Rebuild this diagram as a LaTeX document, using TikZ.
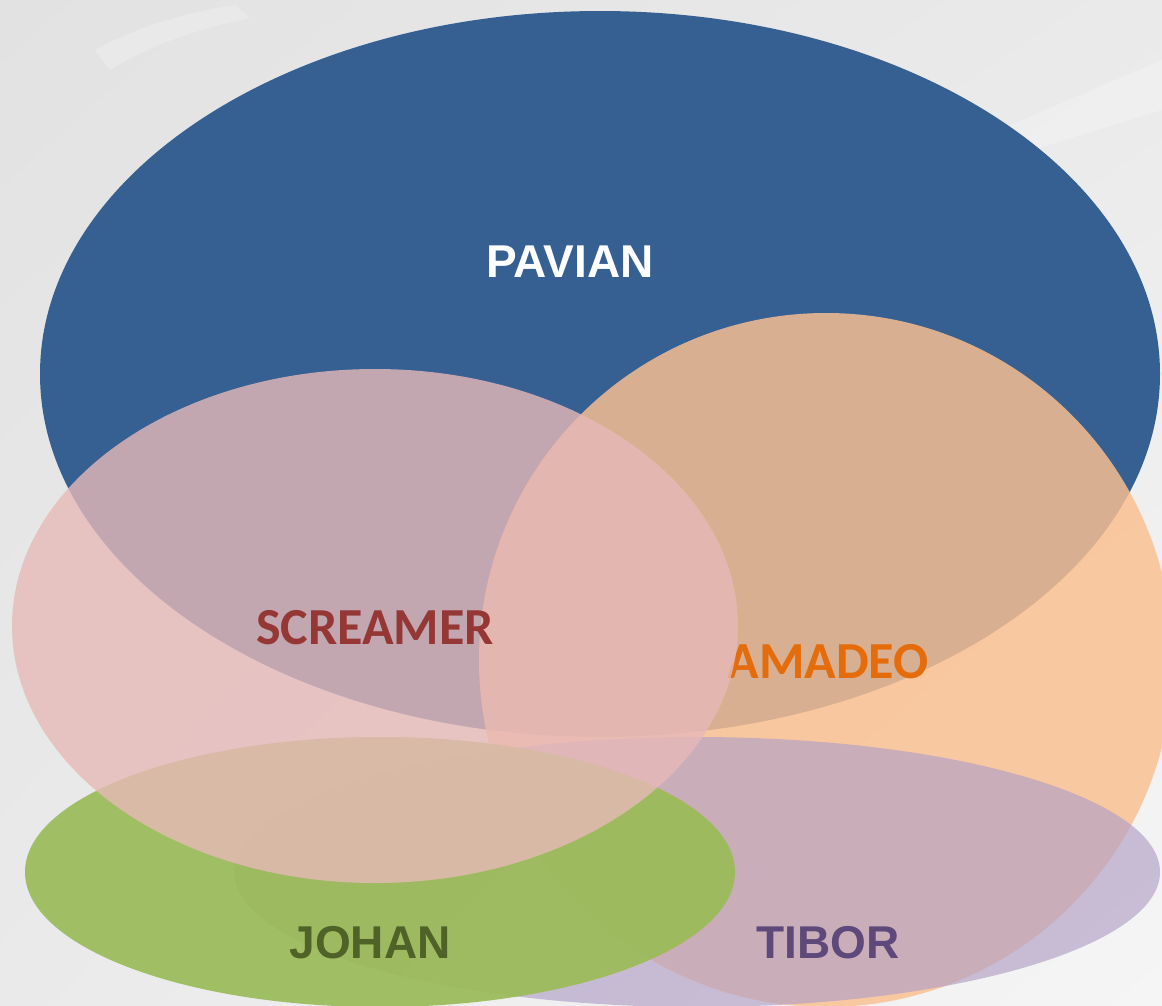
\documentclass[tikz,border=0pt]{standalone}
\usepackage{fontspec}
\usetikzlibrary{shadings}
\newfontfamily\arialf{Liberation Sans}
\newfontfamily\calf{Carlito}
\definecolor{bgA}{HTML}{E2E2E2}
\definecolor{bgM}{HTML}{EAEAEA}
\definecolor{bgB}{HTML}{F5F5F5}
\definecolor{pavc}{HTML}{366092}
\definecolor{amac}{HTML}{FAC090}
\definecolor{tibc}{HTML}{B3A2C7}
\definecolor{johc}{HTML}{9BBB59}
\definecolor{scrc}{HTML}{E6B9B8}
\definecolor{scrt}{HTML}{953735}
\definecolor{amat}{HTML}{E46C0A}
\definecolor{joht}{HTML}{4F6228}
\definecolor{tibt}{HTML}{5F497A}
\tikzset{
  lab/.style={inner sep=0pt, anchor=center},
  arlab/.style={lab, font=\arialf\bfseries\fontsize{46}{50}\selectfont},
  calab/.style={lab, font=\calf\bfseries\fontsize{52}{56}\selectfont},
}
\begin{document}
\begin{tikzpicture}[x=1pt,y=-1pt]
\useasboundingbox (0,0) rectangle (1162,1005);
% background
\shade[upper left=bgA, upper right=bgM, lower left=bgM, lower right=bgB] (0,0) rectangle (1162,1005);
\fill[white, opacity=0.22] (95,50) .. controls (140,25) and (190,12) .. (235,5) -- (250,18) .. controls (200,28) and (150,45) .. (110,70) -- cycle;
\fill[white, opacity=0.2] (1162,60) -- (1162,110) -- (1000,160) -- (1010,125) -- cycle;
% PAVIAN
\fill[pavc] (600,374) ellipse [x radius=560pt, y radius=363pt];
% AMADEO
\fill[amac, opacity=0.83] (826,660) ellipse [x radius=347pt, y radius=347pt];
\node[calab, text=amat] (amadeo) at (828,662) {AMADEO};
% TIBOR
\fill[tibc, opacity=0.67] (697,872) ellipse [x radius=463pt, y radius=135pt];
% JOHAN
\fill[johc, opacity=0.93] (380,872) ellipse [x radius=355pt, y radius=135pt];
% SCREAMER
\fill[scrc, opacity=0.8] (375,626) ellipse [x radius=363pt, y radius=257pt];
% labels
\node[arlab, text=white] (pavian) at (570,262) {PAVIAN};
\node[calab, text=scrt] (screamer) at (375,628) {SCREAMER};
\node[arlab, text=joht] (johan) at (370,943) {JOHAN};
\node[arlab, text=tibt] (tibor) at (828,943) {TIBOR};
\end{tikzpicture}
\end{document}
